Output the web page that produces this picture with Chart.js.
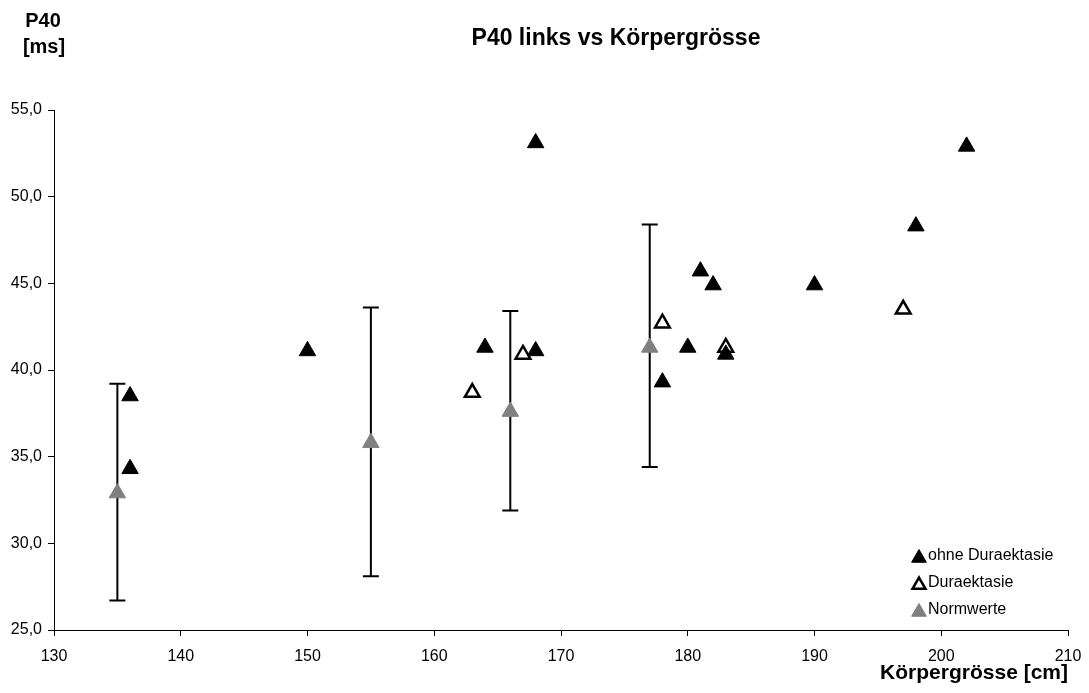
<!DOCTYPE html>
<html>
<head>
<meta charset="utf-8">
<script src="https://cdn.jsdelivr.net/npm/chart.js@4/dist/chart.umd.min.js"></script>
<style>
  html, body { margin: 0; padding: 0; background: #fff; }
  canvas { display: block; }
</style>
</head>
<body>
<canvas id="chart" width="1089" height="693"></canvas>
<script>
// Körpergrösse [cm] / P40 [ms]
const ohneX = [136, 136, 150, 164, 168, 168, 178, 180, 181, 182, 183, 190, 198, 202];
const ohneY = [38.5, 34.3, 41.1, 41.3, 53.1, 41.1, 39.3, 41.3, 45.7, 44.9, 40.9, 44.9, 48.3, 52.9];

const duraX = [163, 167, 178, 183, 197];
const duraY = [38.7, 40.9, 42.7, 41.3, 43.5];

const normX = [135, 155, 166, 177];
const normY = [32.9, 35.8, 37.6, 41.3];
const normLow = [26.7, 28.1, 31.9, 34.4];
const normHigh = [39.2, 43.6, 43.4, 48.4];

const seriesNames = ["ohne Duraektasie", "Duraektasie", "Normwerte"];
const font = "'Liberation Sans', Arial, sans-serif";

function toPoints(xs, ys) {
    const pts = [];
    for (let i = 0; i < xs.length; ++i) {
        pts.push({ x: xs[i], y: ys[i] });
    }
    return pts;
}

const errorBars = {
    id: "errorBars",
    beforeDatasetsDraw(chart) {
        const ctx = chart.ctx;
        const xs = chart.scales.x;
        const ys = chart.scales.y;
        ctx.save();
        ctx.strokeStyle = "#000";
        ctx.lineWidth = 2;
        for (let i = 0; i < normX.length; ++i) {
            const px = xs.getPixelForValue(normX[i]);
            const top = ys.getPixelForValue(normHigh[i]);
            const bot = ys.getPixelForValue(normLow[i]);
            ctx.beginPath();
            ctx.moveTo(px, top);
            ctx.lineTo(px, bot);
            ctx.moveTo(px - 8, top);
            ctx.lineTo(px + 8, top);
            ctx.moveTo(px - 8, bot);
            ctx.lineTo(px + 8, bot);
            ctx.stroke();
        }
        ctx.restore();
    }
};

const extras = {
    id: "extras",
    afterDraw(chart) {
        const ctx = chart.ctx;
        ctx.save();
        ctx.fillStyle = "#000";
        ctx.textAlign = "center";
        ctx.textBaseline = "alphabetic";
        ctx.font = "bold 23px " + font;
        ctx.fillText("P40 links vs Körpergrösse", 616, 45);
        ctx.font = "bold 20px " + font;
        ctx.fillText("P40", 43, 27);
        ctx.fillText("[ms]", 44, 53);

        // legend
        const ys = [556, 583, 610];
        ctx.font = "16px " + font;
        ctx.textAlign = "left";
        ctx.textBaseline = "middle";
        chart.data.datasets.forEach((ds, i) => {
            ctx.fillStyle = ds.backgroundColor;
            ctx.strokeStyle = ds.borderColor;
            ctx.lineWidth = ds.borderWidth;
            Chart.helpers.drawPoint(ctx, {
                pointStyle: "triangle",
                radius: ds.pointRadius - 1,
                borderWidth: ds.borderWidth,
                rotation: 0
            }, 919, ys[i] + 2);
            ctx.fillStyle = "#000";
            ctx.fillText(seriesNames[i], 928, ys[i]);
        });
        ctx.restore();
    }
};

const data = {
    datasets: [
        {
            label: seriesNames[0],
            data: toPoints(ohneX, ohneY),
            pointStyle: "triangle",
            pointRadius: 9.5,
            backgroundColor: "#000",
            borderColor: "#000",
            borderWidth: 1
        },
        {
            label: seriesNames[1],
            data: toPoints(duraX, duraY),
            pointStyle: "triangle",
            pointRadius: 8.5,
            backgroundColor: "#fff",
            borderColor: "#000",
            borderWidth: 2.5
        },
        {
            label: seriesNames[2],
            data: toPoints(normX, normY),
            pointStyle: "triangle",
            pointRadius: 9.5,
            backgroundColor: "rgb(128, 128, 128)",
            borderColor: "rgb(128, 128, 128)",
            borderWidth: 1
        }
    ]
};

const config = {
    type: "scatter",
    data,
    options: {
        responsive: false,
        animation: false,
        layout: { padding: { top: 110, right: 21, bottom: 7, left: 0 } },
        plugins: {
            legend: { display: false },
            tooltip: { enabled: false }
        },
        scales: {
            x: {
                type: "linear",
                min: 130,
                max: 210,
                afterFit(scale) {
                    scale.height = 56;
                    scale.paddingRight = 0;
                    scale.paddingLeft = 0;
                },
                border: { color: "#000", width: 1 },
                grid: { drawOnChartArea: false, color: "#000", tickLength: 6 },
                ticks: {
                    stepSize: 10,
                    padding: 11,
                    color: "#000",
                    font: { family: font, size: 16 }
                },
                title: {
                    display: true,
                    text: "Körpergrösse [cm]",
                    align: "end",
                    color: "#000",
                    padding: 0,
                    font: { family: font, size: 21, weight: "bold" }
                }
            },
            y: {
                type: "linear",
                min: 25,
                max: 55,
                afterFit(scale) { scale.width = 54; },
                border: { color: "#000", width: 1 },
                grid: { drawOnChartArea: false, color: "#000", tickLength: 6 },
                ticks: {
                    stepSize: 5,
                    padding: 6,
                    color: "#000",
                    font: { family: font, size: 16 },
                    callback: (v) => v.toFixed(1).replace(".", ",")
                }
            }
        }
    },
    plugins: [errorBars, extras]
};

const ctx = document.getElementById("chart");

if (ctx) {
    new Chart(ctx, config);
}
</script>
</body>
</html>
